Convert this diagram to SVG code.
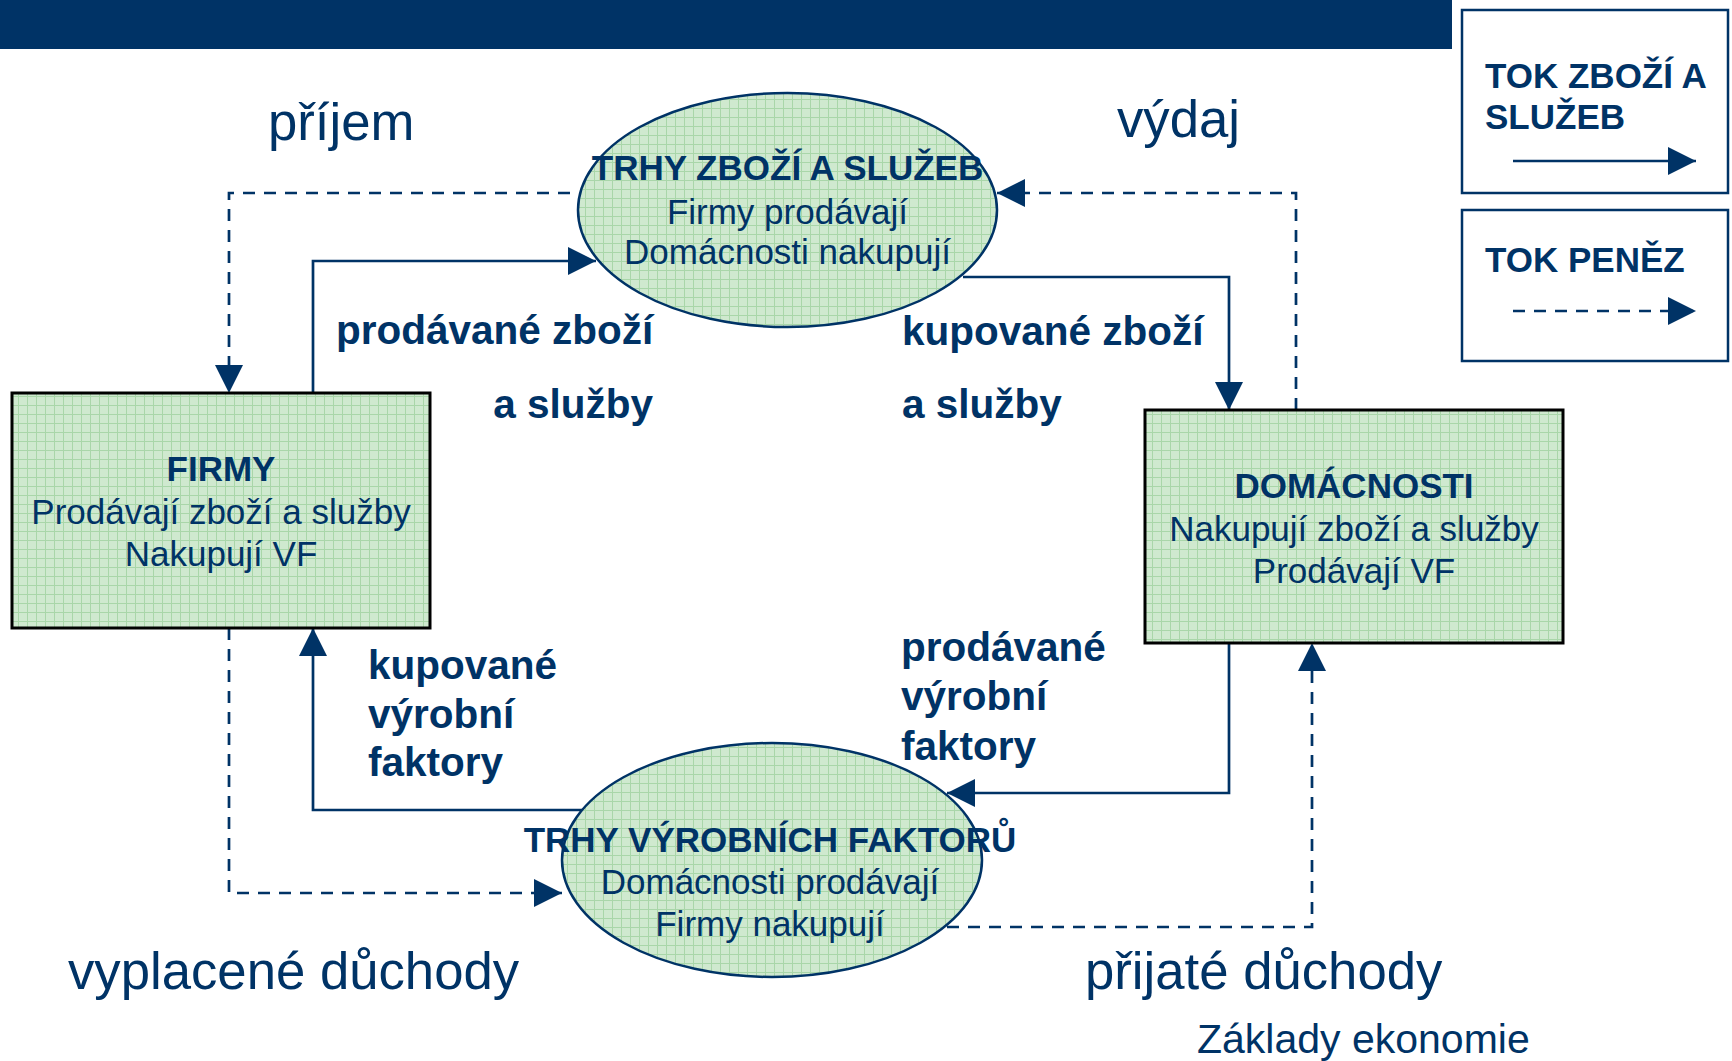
<svg xmlns="http://www.w3.org/2000/svg" width="1732" height="1061" viewBox="0 0 1732 1061">
  <style>
    text { font-family: "Liberation Sans", Arial, sans-serif; fill: #003366; }
    .b { font-weight: bold; }
    .t35 { font-size: 35px; }
    .lbl { font-size: 40.5px; font-weight: bold; }
    .big { font-size: 52.7px; }
    .mid { text-anchor: middle; }
    .box { fill: url(#grid); stroke: #000000; stroke-width: 3; }
    .ell { fill: url(#grid); stroke: #003366; stroke-width: 2.5; }
    .leg { fill: #ffffff; stroke: #003366; stroke-width: 2.5; }
    .solid { fill: none; stroke: #003366; stroke-width: 2.7; marker-end: url(#arr); }
    .dash { fill: none; stroke: #003366; stroke-width: 2.7; stroke-dasharray: 12 9; marker-end: url(#arr); }
  </style>
  <defs>
    <pattern id="grid" width="9" height="9" patternUnits="userSpaceOnUse">
      <rect width="9" height="9" fill="#cfe9cf"/>
      <path d="M0 0.5H9M0.5 0V9" stroke="#a9d6a9" stroke-width="1"/>
    </pattern>
    <marker id="arr" markerUnits="userSpaceOnUse" markerWidth="28" markerHeight="28" refX="28" refY="14" orient="auto" viewBox="0 0 28 28">
      <path d="M0,0 L28,14 L0,28 Z" fill="#003366"/>
    </marker>
  </defs>

  <rect x="0" y="0" width="1452" height="49" fill="#003366"/>

  <g id="connectors">
    <path class="solid" d="M313,393 V261 H596"/>
    <path class="solid" d="M963,277 H1229 V410"/>
    <path class="solid" d="M1229,643 V793 H947"/>
    <path class="solid" d="M582,810 H313 V628"/>
    <path class="dash" d="M570,193 H229 V393"/>
    <path class="dash" d="M1296,410 V193 H997"/>
    <path class="dash" d="M229,628 V893 H562"/>
    <path class="dash" d="M947,927 H1312 V643"/>
  </g>

  <g id="firmy">
    <rect class="box" x="12" y="393" width="418" height="235"/>
    <text class="b t35 mid" x="221" y="481">FIRMY</text>
    <text class="t35 mid" x="221" y="524">Prodávají zboží a služby</text>
    <text class="t35 mid" x="221" y="566">Nakupují VF</text>
  </g>

  <g id="domacnosti">
    <rect class="box" x="1145" y="410" width="418" height="233"/>
    <text class="b t35 mid" x="1354" y="498">DOMÁCNOSTI</text>
    <text class="t35 mid" x="1354" y="541">Nakupují zboží a služby</text>
    <text class="t35 mid" x="1354" y="583">Prodávají VF</text>
  </g>

  <g id="trhy-zbozi">
    <ellipse class="ell" cx="787.5" cy="210" rx="209.5" ry="117"/>
    <text class="b t35 mid" x="787.5" y="180">TRHY ZBOŽÍ A SLUŽEB</text>
    <text class="t35 mid" x="787.5" y="224">Firmy prodávají</text>
    <text class="t35 mid" x="787.5" y="264">Domácnosti nakupují</text>
  </g>

  <g id="trhy-vf">
    <ellipse class="ell" cx="772" cy="860" rx="210" ry="117"/>
    <text class="b t35 mid" x="770" y="852">TRHY VÝROBNÍCH FAKTORŮ</text>
    <text class="t35 mid" x="770" y="894">Domácnosti prodávají</text>
    <text class="t35 mid" x="770" y="936">Firmy nakupují</text>
  </g>

  <g id="legend-zbozi">
    <rect class="leg" x="1462" y="10" width="266" height="183"/>
    <text class="b t35" x="1485" y="88">TOK ZBOŽÍ A</text>
    <text class="b t35" x="1485" y="129">SLUŽEB</text>
    <path class="solid" d="M1513,161 H1696"/>
  </g>

  <g id="legend-penez">
    <rect class="leg" x="1462" y="210" width="266" height="151"/>
    <text class="b t35" x="1485" y="272">TOK PENĚZ</text>
    <path class="dash" d="M1513,311 H1696"/>
  </g>

  <g id="labels">
    <text class="big" x="268" y="140">příjem</text>
    <text class="big" x="1117" y="137">výdaj</text>
    <text class="big" x="68" y="989">vyplacené důchody</text>
    <text class="big" x="1085" y="989">přijaté důchody</text>
    <text x="1197" y="1053" style="font-size:41px">Základy ekonomie</text>
    <text class="lbl" x="336" y="344">prodávané zboží</text>
    <text class="lbl" x="653" y="418" text-anchor="end">a služby</text>
    <text class="lbl" x="902" y="345">kupované zboží</text>
    <text class="lbl" x="902" y="418">a služby</text>
    <text class="lbl" x="368" y="679">kupované</text>
    <text class="lbl" x="368" y="728">výrobní</text>
    <text class="lbl" x="368" y="776">faktory</text>
    <text class="lbl" x="901" y="661">prodávané</text>
    <text class="lbl" x="901" y="710">výrobní</text>
    <text class="lbl" x="901" y="760">faktory</text>
  </g>
</svg>
